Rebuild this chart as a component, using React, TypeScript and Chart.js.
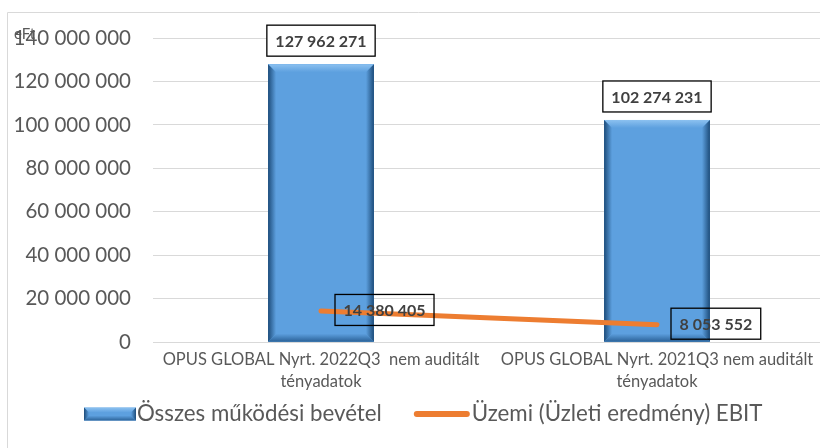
import React, { useEffect, useRef } from "react";
import { Chart, registerables } from "chart.js";

Chart.register(...registerables);

// ---- data ----
const categories: string[][] = [
  ["OPUS GLOBAL Nyrt. 2022Q3  nem auditált", "tényadatok"],
  ["OPUS GLOBAL Nyrt. 2021Q3 nem auditált", "tényadatok"],
];
const revenueValues = [127962271, 102274231];
const ebitValues = [14380405, 8053552];
const seriesNames = ["Összes működési bevétel", "Üzemi (Üzleti eredmény) EBIT"];
const yTickValues = [0, 20000000, 40000000, 60000000, 80000000, 100000000, 120000000, 140000000];
const unitLabel = "eFt";

const FONT = "Lato, 'Open Sans', sans-serif";
const BAR_FACE = "#5DA0DF";
const BAR_DARK = "#1d4c7a";
const ORANGE = "#ED7D31";
const TEXT = "#595959";
const LABEL_FONT = `bold 16px ${FONT}`;

function fmt(n: number): string {
  return String(Math.round(n)).replace(/\B(?=(\d{3})+(?!\d))/g, " ");
}

function drawBevel(ctx: CanvasRenderingContext2D, L: number, T: number, R: number, B: number, b: number) {
  ctx.save();
  ctx.fillStyle = BAR_FACE;
  ctx.fillRect(L, T, R - L, B - T);
  let g = ctx.createLinearGradient(0, T, 0, T + b);
  g.addColorStop(0, "#8cc1f0");
  g.addColorStop(1, BAR_FACE);
  ctx.fillStyle = g;
  ctx.beginPath();
  ctx.moveTo(L, T); ctx.lineTo(R, T); ctx.lineTo(R - b, T + b); ctx.lineTo(L + b, T + b); ctx.closePath();
  ctx.fill();
  g = ctx.createLinearGradient(0, B - b, 0, B);
  g.addColorStop(0, BAR_FACE);
  g.addColorStop(1, "#2b6298");
  ctx.fillStyle = g;
  ctx.beginPath();
  ctx.moveTo(L, B); ctx.lineTo(R, B); ctx.lineTo(R - b, B - b); ctx.lineTo(L + b, B - b); ctx.closePath();
  ctx.fill();
  g = ctx.createLinearGradient(L, 0, L + b, 0);
  g.addColorStop(0, BAR_DARK);
  g.addColorStop(1, BAR_FACE);
  ctx.fillStyle = g;
  ctx.beginPath();
  ctx.moveTo(L, T); ctx.lineTo(L + b, T + b); ctx.lineTo(L + b, B - b); ctx.lineTo(L, B); ctx.closePath();
  ctx.fill();
  g = ctx.createLinearGradient(R - b, 0, R, 0);
  g.addColorStop(0, BAR_FACE);
  g.addColorStop(1, BAR_DARK);
  ctx.fillStyle = g;
  ctx.beginPath();
  ctx.moveTo(R, T); ctx.lineTo(R - b, T + b); ctx.lineTo(R - b, B - b); ctx.lineTo(R, B); ctx.closePath();
  ctx.fill();
  ctx.restore();
}

const framePlugin = {
  id: "frame",
  beforeDraw(chart: any) {
    const ctx = chart.ctx as CanvasRenderingContext2D;
    ctx.save();
    ctx.strokeStyle = "#d9d9d9";
    ctx.lineWidth = 1;
    ctx.beginPath();
    ctx.moveTo(7.5, chart.height);
    ctx.lineTo(7.5, 12.5);
    ctx.lineTo(chart.width, 12.5);
    ctx.stroke();
    ctx.restore();
  },
};

const legendPlacePlugin = {
  id: "legendPlace",
  afterLayout(chart: any) {
    const lg = chart.legend;
    if (!lg) return;
    const pad = lg.options.labels.padding;
    const w = lg.right - lg.left;
    lg.left = 59 - pad;
    lg.right = lg.left + w;
  },
};

const bevelPlugin = {
  id: "bevel",
  afterDatasetDraw(chart: any, args: any) {
    if (args.index !== 0) return;
    const ctx = chart.ctx as CanvasRenderingContext2D;
    const meta = chart.getDatasetMeta(0);
    meta.data.forEach((el: any) => {
      const p = el.getProps(["x", "y", "base", "width"], true);
      drawBevel(ctx, p.x - p.width / 2, p.y, p.x + p.width / 2, p.base, 8);
    });
  },
};

function labelBox(ctx: CanvasRenderingContext2D, text: string, left: number, top: number, fill: boolean) {
  ctx.font = LABEL_FONT;
  const w = ctx.measureText(text).width + 17;
  const h = 31;
  if (fill) {
    ctx.fillStyle = "#ffffff";
    ctx.fillRect(left, top, w, h);
  }
  ctx.strokeStyle = "#000000";
  ctx.lineWidth = 1.3;
  ctx.strokeRect(left, top, w, h);
  ctx.fillStyle = "#404040";
  ctx.textAlign = "center";
  ctx.textBaseline = "middle";
  ctx.fillText(text, left + w / 2, top + h / 2 + 1);
}

const labelPlugin = {
  id: "valueLabels",
  afterDatasetsDraw(chart: any) {
    const ctx = chart.ctx as CanvasRenderingContext2D;
    ctx.save();
    const barMeta = chart.getDatasetMeta(0);
    barMeta.data.forEach((el: any, i: number) => {
      const text = fmt(chart.data.datasets[0].data[i]);
      ctx.font = LABEL_FONT;
      const w = ctx.measureText(text).width + 17;
      labelBox(ctx, text, el.x - w / 2, el.y - 8 - 31, true);
    });
    const lineMeta = chart.getDatasetMeta(1);
    lineMeta.data.forEach((el: any, i: number) => {
      const text = fmt(chart.data.datasets[1].data[i]);
      labelBox(ctx, text, el.x + 14, el.y - 16.5, false);
    });
    ctx.font = `15px ${FONT}`;
    ctx.fillStyle = TEXT;
    ctx.textAlign = "left";
    ctx.textBaseline = "alphabetic";
    ctx.fillText(unitLabel, 14, 39);
    ctx.restore();
  },
};

const legendSwatchPlugin = {
  id: "legendSwatches",
  afterDraw(chart: any) {
    const lg = chart.legend;
    if (!lg || !lg.legendHitBoxes) return;
    const ctx = chart.ctx as CanvasRenderingContext2D;
    const hb0 = lg.legendHitBoxes[0];
    const hb1 = lg.legendHitBoxes[1];
    if (hb0) {
      const cy = hb0.top + hb0.height / 2;
      drawBevel(ctx, hb0.left + 25, cy - 6.5, hb0.left + 77, cy + 6.5, 5);
    }
    if (hb1) {
      const cy = hb1.top + hb1.height / 2;
      ctx.save();
      ctx.strokeStyle = ORANGE;
      ctx.lineWidth = 6;
      ctx.lineCap = "round";
      ctx.beginPath();
      ctx.moveTo(hb1.left + 23, cy);
      ctx.lineTo(hb1.left + 73, cy);
      ctx.stroke();
      ctx.restore();
    }
  },
};

export default function App() {
  const ref = useRef<HTMLCanvasElement | null>(null);

  useEffect(() => {
    if (!ref.current) return;
    const chart = new Chart(ref.current, {
      type: "bar",
      data: {
        labels: categories,
        datasets: [
          {
            type: "bar",
            label: seriesNames[0],
            data: revenueValues,
            backgroundColor: BAR_FACE,
            borderWidth: 0,
            barPercentage: 0.315,
            categoryPercentage: 1,
            order: 2,
          },
          {
            type: "line",
            label: seriesNames[1],
            data: ebitValues,
            borderColor: ORANGE,
            backgroundColor: ORANGE,
            borderWidth: 5,
            borderCapStyle: "round",
            pointRadius: 0,
            pointHoverRadius: 0,
            tension: 0,
            order: 1,
          },
        ] as any,
      },
      options: {
        responsive: false,
        animation: false,
        devicePixelRatio: 1,
        layout: { padding: { left: 10, right: 5, top: 38, bottom: 12.75 } },
        scales: {
          x: {
            type: "category",
            offset: true,
            grid: { display: false, drawTicks: false },
            border: { display: false },
            ticks: {
              color: TEXT,
              font: { family: FONT, size: 16.5, lineHeight: 1.333 },
              padding: 6,
              maxRotation: 0,
              autoSkip: false,
            },
            afterFit(s: any) {
              s.height = 48.75;
            },
          },
          y: {
            min: 0,
            max: 140000000,
            afterBuildTicks(s: any) {
              s.ticks = yTickValues.map((v) => ({ value: v }));
            },
            grid: { color: "#d9d9d9", lineWidth: 1, drawTicks: false },
            border: { display: false },
            ticks: {
              color: TEXT,
              font: { family: FONT, size: 20.5 },
              padding: 22,
              callback: (v: any) => fmt(Number(v)),
            },
            afterFit(s: any) {
              s.width = 143;
            },
          },
        },
        plugins: {
          tooltip: { enabled: false },
          legend: {
            position: "bottom",
            align: "start",
            labels: {
              usePointStyle: true,
              pointStyleWidth: 66.75,
              padding: 12,
              color: TEXT,
              font: { family: FONT, size: 22.3 },
              generateLabels: (c: any) =>
                c.data.datasets.map((d: any, i: number) => ({
                  text: d.label,
                  fillStyle: "rgba(0,0,0,0)",
                  strokeStyle: "rgba(0,0,0,0)",
                  lineWidth: 0,
                  pointStyle: "rect",
                  fontColor: TEXT,
                  datasetIndex: i,
                  hidden: false,
                })),
            },
          },
        },
      } as any,
      plugins: [framePlugin, legendPlacePlugin, bevelPlugin, labelPlugin, legendSwatchPlugin],
    });
    return () => chart.destroy();
  }, []);

  return (
    <div style={{ position: "absolute", left: 0, top: 0, width: 820, height: 448, overflow: "hidden", background: "#ffffff" }}>
      <canvas ref={ref} width={830} height={448} style={{ width: 830, height: 448, display: "block" }} />
    </div>
  );
}
